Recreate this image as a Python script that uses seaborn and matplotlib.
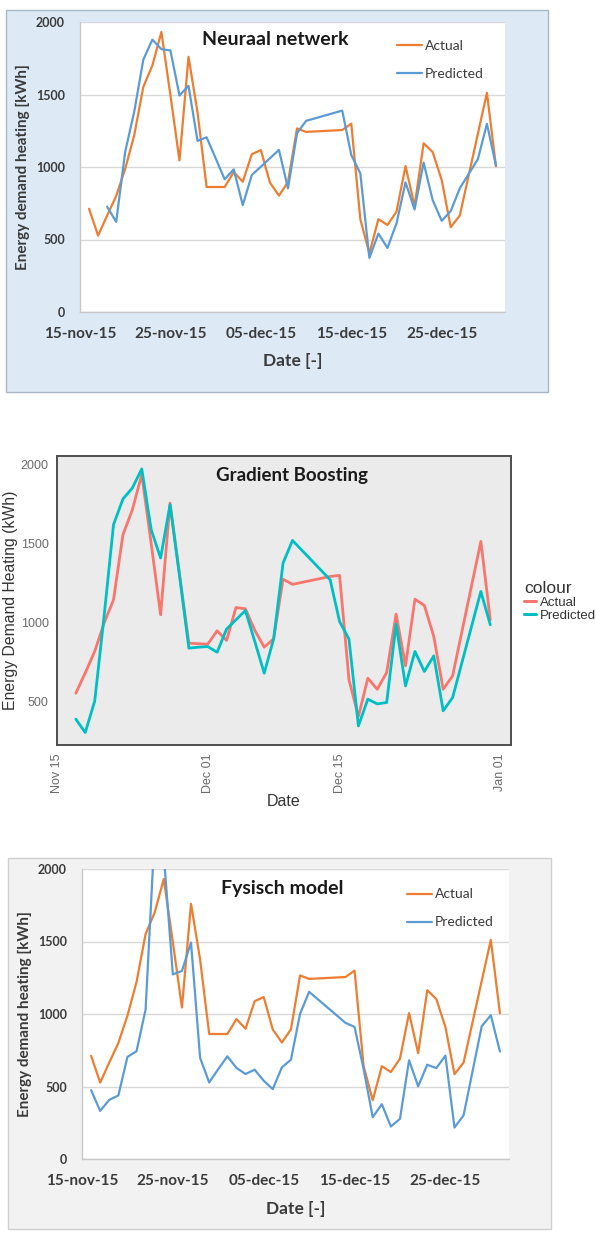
import matplotlib
matplotlib.use("Agg")
import matplotlib.pyplot as plt
import seaborn as sns
import pandas as pd
from matplotlib.patches import Rectangle
from matplotlib.lines import Line2D

# ---------------- data ----------------
actual_days = ["11-16", "11-17", "11-18", "11-19", "11-20", "11-21", "11-22", "11-23", "11-24", "11-25",
               "11-26", "11-27", "11-28", "11-29", "11-30", "12-01", "12-02", "12-03", "12-04", "12-05",
               "12-06", "12-07", "12-08", "12-09", "12-10", "12-14", "12-15", "12-16", "12-17", "12-18",
               "12-19", "12-20", "12-21", "12-22", "12-23", "12-24", "12-25", "12-26", "12-27", "12-30",
               "12-31"]
actual_kwh = [712, 527, 665, 800, 988, 1220, 1552, 1700, 1931, 1495,
              1045, 1760, 1375, 862, 862, 862, 965, 898, 1088, 1117,
              893, 803, 895, 1266, 1242, 1255, 1299, 640, 405, 640,
              600, 692, 1006, 730, 1164, 1103, 910, 585, 665, 1511,
              1005]

nn_days = ["11-18", "11-19", "11-20", "11-21", "11-22", "11-23", "11-24", "11-25", "11-26", "11-27",
           "11-28", "11-29", "11-30", "12-01", "12-02", "12-03", "12-04", "12-05", "12-06", "12-07",
           "12-08", "12-09", "12-10", "12-14", "12-15", "12-16", "12-17", "12-18", "12-19", "12-20",
           "12-21", "12-22", "12-23", "12-24", "12-25", "12-26", "12-27", "12-29", "12-30", "12-31"]
nn_pred_kwh = [726, 622, 1106, 1382, 1740, 1878, 1813, 1804, 1493, 1560,
               1180, 1205, 1060, 915, 984, 737, 945, 1002, 1060, 1118,
               853, 1233, 1318, 1389, 1083, 956, 373, 541, 442, 611,
               894, 707, 1030, 772, 629, 696, 853, 1054, 1298, 1010]

gb_days = ["11-17", "11-18", "11-19", "11-20", "11-21", "11-22", "11-23", "11-24", "11-25", "11-26",
           "11-27", "11-28", "11-29", "11-30", "12-01", "12-02", "12-03", "12-04", "12-05", "12-06",
           "12-07", "12-08", "12-09", "12-10", "12-14", "12-15", "12-16", "12-17", "12-18", "12-19",
           "12-20", "12-21", "12-22", "12-23", "12-24", "12-25", "12-26", "12-27", "12-30", "12-31"]
gb_actual_kwh = [551, 680, 816, 996, 1144, 1557, 1716, 1939, 1500, 1049,
                 1758, 1310, 869, 865, 862, 947, 886, 1095, 1087, 950,
                 843, 896, 1275, 1242, 1292, 1299, 636, 403, 646, 576,
                 682, 1053, 725, 1148, 1108, 911, 576, 661, 1515, 1017]
gb_pred_kwh = [386, 301, 500, 1040, 1621, 1784, 1854, 1975, 1589, 1409,
               1748, 1300, 837, 843, 847, 811, 958, 1017, 1076, 879,
               678, 896, 1377, 1521, 1271, 1006, 894, 343, 513, 483,
               492, 989, 597, 816, 689, 788, 439, 523, 1197, 985]

phys_days = ["11-16", "11-17", "11-18", "11-19", "11-20", "11-21", "11-22", "11-23", "11-24", "11-25",
             "11-26", "11-27", "11-28", "11-29", "11-30", "12-01", "12-02", "12-03", "12-04", "12-05",
             "12-06", "12-07", "12-08", "12-09", "12-10", "12-14", "12-15", "12-16", "12-17", "12-18",
             "12-19", "12-20", "12-21", "12-22", "12-23", "12-24", "12-25", "12-26", "12-27", "12-29",
             "12-30", "12-31"]
phys_pred_kwh = [475, 332, 408, 438, 704, 743, 1031, 2250, 2100, 1273,
                 1297, 1493, 697, 528, 620, 708, 628, 586, 616, 540,
                 482, 632, 685, 1001, 1153, 939, 911, 620, 288, 378,
                 224, 277, 681, 501, 650, 627, 713, 217, 301, 916,
                 992, 741]

series_labels = ["Actual", "Predicted"]
titles = ["Neuraal netwerk", "Gradient Boosting", "Fysisch model"]

y_ticks_excel = [0, 500, 1000, 1500, 2000]
x_ticks_excel = ["2015-11-15", "2015-11-25", "2015-12-05", "2015-12-15", "2015-12-25"]
x_tick_labels_excel = ["15-nov-15", "25-nov-15", "05-dec-15", "15-dec-15", "25-dec-15"]

y_ticks_gb = [500, 1000, 1500, 2000]
x_ticks_gb = ["2015-11-15", "2015-12-01", "2015-12-15", "2016-01-01"]
x_tick_labels_gb = ["Nov 15", "Dec 01", "Dec 15", "Jan 01"]


def to_dt(days):
    return pd.to_datetime(["2015-" + d for d in days])


# ---------------- figure ----------------
sns.set_theme(style="white")
plt.rcParams['font.family'] = ['Lato', 'DejaVu Sans']

W, H = 596, 1233
fig = plt.figure(figsize=(W / 100, H / 100), dpi=100)
fig.patch.set_facecolor("white")


def rect(l, t, r, b):
    return [l / W, 1 - b / H, (r - l) / W, (b - t) / H]


def frame(l, t, r, b, fc, ec):
    fig.patches.append(Rectangle((l / W, 1 - b / H), (r - l) / W, (b - t) / H,
                                 transform=fig.transFigure, facecolor=fc,
                                 edgecolor=ec, lw=1.0, zorder=-10))


ORANGE, BLUE = "#ED7D31", "#5B9BD5"
RED, CYAN = "#F8766D", "#00BFC4"
TXT, GRID = "#3A3A3A", "#D9D9D9"


def excel_style(ax, title, title_xy, leg_xy, ylab_x, xlab_y):
    ax.set_facecolor("white")
    ax.set_xlim(pd.Timestamp("2015-11-15"), pd.Timestamp("2016-01-01"))
    ax.set_ylim(0, 2000)
    ax.set_yticks(y_ticks_excel)
    ax.set_yticklabels([str(v) for v in y_ticks_excel], fontweight="bold")
    ax.set_xticks(pd.to_datetime(x_ticks_excel))
    ax.set_xticklabels(x_tick_labels_excel, fontweight="bold")
    ax.grid(axis="y", color=GRID, lw=1)
    ax.grid(axis="x", visible=False)
    ax.set_axisbelow(True)
    for s in ["top", "right"]:
        ax.spines[s].set_visible(False)
    for s in ["left", "bottom"]:
        ax.spines[s].set_color("#C8C8C8")
        ax.spines[s].set_linewidth(1)
    ax.tick_params(axis="x", direction="out", length=5, width=1, color="#C8C8C8",
                   pad=6, labelsize=11, labelcolor=TXT)
    ax.tick_params(axis="y", direction="out", length=4, width=1, color=GRID,
                   pad=7, labelsize=9, labelcolor=TXT)
    ax.set_xlabel("Date [-]", fontsize=12.5, fontweight="bold", color=TXT)
    ax.set_ylabel("Energy demand heating [kWh]", fontsize=11, fontweight="bold", color=TXT)
    ax.xaxis.set_label_coords(0.5, xlab_y)
    ax.yaxis.set_label_coords(ylab_x, 0.5)
    ax.text(title_xy[0], title_xy[1], title, transform=ax.transAxes, ha="center", va="center",
            fontsize=14, fontweight="bold", color="#1A1A1A")
    handles = [Line2D([], [], color=ORANGE, lw=1.6), Line2D([], [], color=BLUE, lw=1.6)]
    leg = ax.legend(handles=handles, labels=series_labels, loc="upper left", bbox_to_anchor=leg_xy,
                    frameon=False, borderpad=0, borderaxespad=0, handlelength=1.8,
                    handletextpad=0.2, labelspacing=1.15, fontsize=10)
    for t in leg.get_texts():
        t.set_color(TXT)


# ---- panel 1: Neuraal netwerk ----
frame(6, 10, 548, 392, "#DDEAF6", "#A9B7C4")
ax1 = fig.add_axes(rect(80, 22, 505, 312))
sns.lineplot(x=to_dt(actual_days), y=actual_kwh, ax=ax1, color=ORANGE, lw=1.6)
sns.lineplot(x=to_dt(nn_days), y=nn_pred_kwh, ax=ax1, color=BLUE, lw=1.6)
excel_style(ax1, titles[0], (0.459, 0.938), (0.746, 0.937), -0.118, -0.14)

# ---- panel 2: Gradient Boosting ----
ax2 = fig.add_axes(rect(57, 456, 511, 745))
sns.lineplot(x=to_dt(gb_days), y=gb_actual_kwh, ax=ax2, color=RED, lw=2.0)
sns.lineplot(x=to_dt(gb_days), y=gb_pred_kwh, ax=ax2, color=CYAN, lw=2.0)
ax2.set_facecolor("#EBEBEB")
ax2.set_xlim(pd.Timestamp("2015-11-15"), pd.Timestamp("2015-11-15") + pd.Timedelta(days=48.2))
ax2.set_ylim(222, 2057)
ax2.grid(False)
for s in ax2.spines.values():
    s.set_visible(True)
    s.set_color("#4D4D4D")
    s.set_linewidth(1.4)
ax2.set_yticks(y_ticks_gb)
ax2.set_yticklabels([str(v) for v in y_ticks_gb], fontfamily="Liberation Sans")
ax2.set_xticks(pd.to_datetime(x_ticks_gb))
ax2.set_xticklabels(x_tick_labels_gb, rotation=90, fontfamily="Liberation Sans")
ax2.tick_params(axis="both", direction="out", length=3.5, width=1, color="#4D4D4D",
                pad=2.5, labelsize=9, labelcolor="#6B6B6B")
ax2.set_xlabel("Date", fontsize=11.5, color="#333333", fontfamily="Liberation Sans")
ax2.set_ylabel("Energy Demand Heating (kWh)", fontsize=11.3, color="#333333",
               fontfamily="Liberation Sans")
ax2.xaxis.set_label_coords(0.5, -0.17)
ax2.yaxis.set_label_coords(-0.087, 0.5)
ax2.text(0.518, 0.934, titles[1], transform=ax2.transAxes, ha="center", va="center",
         fontsize=13.5, fontweight="bold", color="#1A1A1A")
gb_handles = [Line2D([], [], color=RED, lw=2.2), Line2D([], [], color=CYAN, lw=2.2)]
leg2 = ax2.legend(handles=gb_handles, labels=series_labels, title="colour", loc="upper left",
                  bbox_to_anchor=(1.029, 0.567), frameon=False, borderpad=0, borderaxespad=0,
                  handlelength=0.9, handletextpad=0.3, labelspacing=0.05, alignment="left",
                  prop={"family": "Liberation Sans", "size": 9.5},
                  title_fontproperties={"family": "Liberation Sans", "size": 12.5})
leg2.get_title().set_color("#333333")
for t in leg2.get_texts():
    t.set_color("#333333")

# ---- panel 3: Fysisch model ----
frame(8, 858, 551, 1229, "#F2F2F2", "#D0D0D0")
ax3 = fig.add_axes(rect(82, 869, 509, 1159))
sns.lineplot(x=to_dt(actual_days), y=actual_kwh, ax=ax3, color=ORANGE, lw=1.6)
sns.lineplot(x=to_dt(phys_days), y=phys_pred_kwh, ax=ax3, color=BLUE, lw=1.6)
excel_style(ax3, titles[2], (0.468, 0.934), (0.761, 0.933), -0.117, -0.145)

fig.savefig("out.png", dpi=100)
